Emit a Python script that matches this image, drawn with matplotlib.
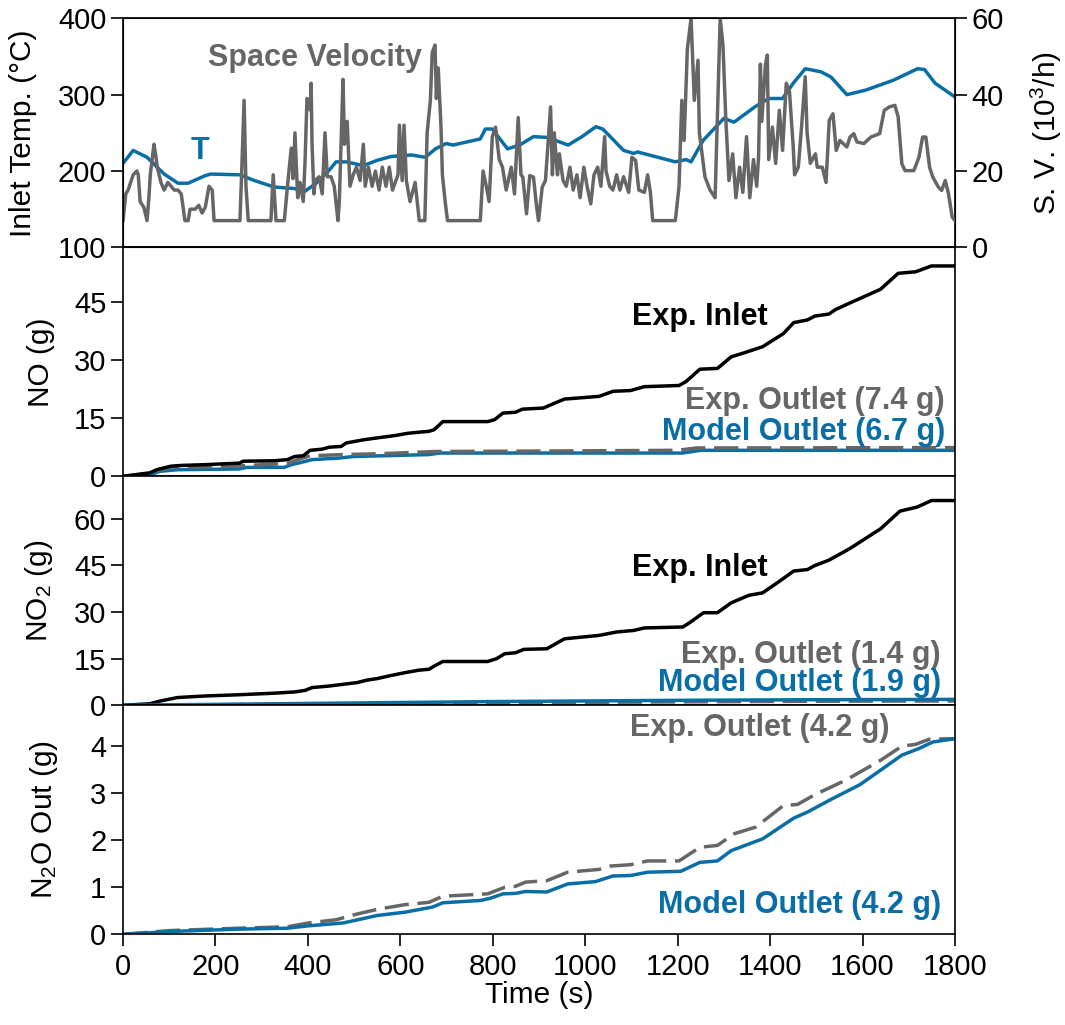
import numpy as np
import matplotlib
matplotlib.use("Agg")
import matplotlib.pyplot as plt

plt.rcParams['font.family'] = ['Liberation Sans', 'DejaVu Sans']
plt.rcParams['mathtext.default'] = 'regular'

BLUE = '#0a6ea6'
GREY = '#666666'

# inlet temperature (degC)
t_temp = [0, 22, 52, 89, 119, 141, 178, 190, 253, 282, 327, 372, 390, 416, 446, 461, 483, 520, 550, 580,
          624, 654, 676, 699, 714, 773, 784, 799, 818, 832, 858, 888, 918, 963, 993, 1023, 1038, 1083, 1105,
          1113, 1195, 1218, 1229, 1255, 1300, 1322, 1367, 1397, 1427, 1450, 1476, 1510, 1532, 1566, 1607,
          1667, 1719, 1734, 1757, 1800]
temp = [210, 227, 218, 196, 184, 184, 194, 196, 195, 188, 179, 177, 172, 183, 201, 212, 212, 207, 214, 219,
        221, 218, 229, 236, 234, 242, 255, 255, 240, 229, 234, 245, 244, 234, 245, 258, 255, 227, 223,
        225, 212, 215, 212, 240, 269, 264, 284, 295, 295, 315, 334, 330, 323, 300, 306,
        319, 334, 333, 315, 297]

# space velocity (10^3/h)
t_sv = [0, 6, 11, 22, 30, 33, 37, 45, 52, 56, 59, 67, 71, 74, 82, 89, 97, 104, 111, 119, 126, 134, 141, 145,
        156, 164, 171, 178, 186, 193, 197, 253, 256, 262, 266, 271, 320, 325, 331, 349, 357, 364, 368, 372,
        378, 383, 390, 394, 398, 401, 405, 407, 409, 413, 416, 424, 431, 437, 442, 450, 457, 465, 468, 476,
        479, 485, 491, 498, 505, 513, 520, 524, 531, 539, 546, 554, 561, 569, 576, 583, 595, 598, 604, 608,
        613, 621, 632, 641, 653, 658, 665, 669, 675, 678, 682, 688, 691, 697, 702, 773, 779, 786, 792, 799,
        806, 814, 821, 829, 840, 847, 855, 861, 865, 873, 880, 888, 895, 899, 907, 914, 922, 925, 929, 933,
        940, 944, 952, 959, 967, 974, 982, 989, 997, 1004, 1012, 1019, 1027, 1034, 1042, 1045, 1053, 1060,
        1068, 1075, 1083, 1094, 1101, 1109, 1116, 1128, 1135, 1141, 1146, 1195, 1203, 1209, 1214, 1221,
        1229, 1236, 1244, 1247, 1259, 1270, 1281, 1289, 1292, 1298, 1304, 1311, 1319, 1326, 1334, 1341,
        1349, 1356, 1364, 1371, 1375, 1379, 1382, 1390, 1394, 1397, 1405, 1412, 1420, 1427, 1435, 1442,
        1450, 1453, 1461, 1468, 1476, 1480, 1487, 1498, 1502, 1513, 1521, 1528, 1536, 1543, 1551, 1566,
        1573, 1581, 1588, 1603, 1618, 1637, 1647, 1658, 1670, 1677, 1685, 1692, 1711, 1722, 1730, 1737,
        1745, 1752, 1764, 1771, 1779, 1786, 1794, 1800]
sv = [7, 14, 15, 19, 20, 19, 12, 10.5, 7, 13, 19, 27, 24, 21, 17, 15, 17, 16, 15, 15, 14, 7, 7, 10,
      10, 11, 9, 10.5, 16, 15, 7, 7, 17, 38.5, 16, 7, 7, 19, 7, 7, 17.5, 26, 18, 30,
      13, 17, 12, 23, 39, 38.5, 36, 43, 27, 14, 17.5, 18.5, 14, 30, 18.5, 18.5, 16, 7, 12, 44,
      27, 33, 16, 19, 21, 17.5, 27, 16, 21, 16, 20, 15, 21, 16, 21, 15, 19, 32, 17.5, 32,
      17.5, 12, 17, 7, 7, 30, 38.5, 51, 53, 39, 47, 31.5, 19, 12, 7, 7, 20, 16, 12, 29,
      31.5, 23, 21, 15, 21, 14, 34, 19, 18.4, 8.8, 18.8, 18.4, 10.5, 7, 15.8, 17.5, 31.5, 36.8, 19, 30,
      19, 24.5, 17.5, 16, 21, 15, 19, 13, 21, 16, 11.4, 19, 21, 16, 29, 20, 16, 15,
      19, 15, 18.5, 14.4, 23.6, 22.8, 15, 14.4, 19, 14.4, 7, 7, 16, 38.5, 28, 52,
      60, 38.5, 49, 30, 18.5, 15, 13, 47, 60, 53, 34, 17.5, 24.5, 13, 21, 14.4,
      29, 13, 23, 16, 23.6, 48, 33, 48, 50.4, 23, 31.5, 22, 35.9, 25.4, 43, 40.7,
      26.3, 19, 21, 31.5, 44.7, 30, 22, 24.5, 21, 21, 17, 33.3, 35, 25.4, 28, 26.3,
      28.9, 29.8, 27.6, 27.2, 28.9, 29.8, 35.9, 36.8, 37.2, 34.2, 21.9, 20.1, 20.1, 23.6, 28.9, 28.9,
      21, 18.4, 15.8, 14.9, 17.5, 14, 7.9, 7]

# cumulative NO (g)
t_no_in = [0, 58, 73, 103, 125, 177, 252, 260, 327, 356, 371, 390, 405, 431, 446, 472, 483, 520, 550, 588,
           617, 662, 673, 692, 789, 804, 822, 849, 864, 910, 925, 955, 1030, 1060, 1098, 1128, 1203, 1218,
           1248, 1286, 1316, 1346, 1384, 1429, 1451, 1481, 1497, 1527, 1542, 1579, 1639, 1677, 1715, 1749, 1800]
no_in = [0, 0.9, 1.7, 2.6, 2.8, 3.0, 3.4, 3.9, 4.0, 4.3, 5.1, 5.3, 6.7, 7.0, 7.5, 7.7, 8.6, 9.4, 9.9, 10.5,
         11.1, 11.6, 12.0, 14.1, 14.1, 14.6, 16.3, 16.5, 17.3, 17.6, 18.4, 19.9, 20.6, 21.9, 22.1, 23.1, 23.4, 24.4,
         27.6, 27.8, 30.8, 31.9, 33.4, 36.8, 39.6, 40.3, 41.3, 41.8, 43.0, 45.0, 48.2, 52.3, 52.7, 54.2, 54.2]
t_no_exp = [0, 58, 103, 177, 252, 356, 378, 405, 476, 550, 677, 899, 1200, 1240, 1800]
no_exp = [0, 0.8, 2.4, 2.4, 2.7, 3.3, 4.3, 5.3, 5.6, 5.8, 6.4, 6.5, 6.7, 7.3, 7.4]
t_no_mod = [0, 58, 81, 118, 252, 267, 349, 364, 386, 409, 468, 498, 662, 685, 1210, 1250, 1800]
no_mod = [0, 0.4, 1.3, 1.7, 1.9, 2.3, 2.3, 3.0, 3.6, 4.3, 4.7, 5.1, 5.6, 6.0, 6.0, 6.7, 6.7]

# cumulative NO2 (g)
t_no2_in = [0, 58, 81, 118, 177, 252, 327, 371, 394, 409, 446, 506, 528, 550, 580, 610, 640, 662, 673, 692,
            789, 808, 826, 849, 867, 917, 955, 1030, 1068, 1105, 1128, 1211, 1226, 1256, 1286, 1316, 1354,
            1384, 1421, 1451, 1481, 1497, 1527, 1572, 1639, 1681, 1718, 1749, 1800]
no2_in = [0, 0.5, 1.4, 2.5, 3.0, 3.4, 3.9, 4.3, 4.8, 5.7, 6.2, 7.3, 8.1, 8.6, 9.6, 10.5, 11.3, 11.6, 12.6, 14.1,
          14.1, 15.0, 16.6, 16.9, 18.0, 18.2, 21.4, 22.5, 23.6, 24.1, 24.9, 25.2, 26.6, 29.8, 29.8, 33.0, 35.4,
          36.2, 40.0, 43.2, 43.7, 45.0, 46.7, 50.4, 56.8, 62.5, 63.8, 65.9, 65.9]
t_no2_exp = [0, 100, 400, 800, 1200, 1500, 1800]
no2_exp = [0, 0.1, 0.4, 0.8, 1.1, 1.3, 1.4]
t_no2_mod = [0, 100, 400, 800, 1200, 1500, 1800]
no2_mod = [0, 0.15, 0.6, 1.2, 1.6, 1.8, 1.9]

# cumulative N2O out (g)
t_n2o_exp = [0, 103, 252, 356, 401, 461, 506, 550, 610, 662, 692, 789, 826, 849, 871, 917, 962, 1030, 1053,
             1098, 1135, 1203, 1248, 1286, 1323, 1369, 1429, 1459, 1497, 1564, 1639, 1685, 1715, 1745, 1800]
n2o_exp = [0, 0.08, 0.13, 0.16, 0.24, 0.31, 0.43, 0.53, 0.63, 0.68, 0.81, 0.86, 1.0, 1.02, 1.11, 1.14, 1.32,
           1.38, 1.45, 1.48, 1.56, 1.56, 1.85, 1.89, 2.14, 2.28, 2.74, 2.76, 2.97, 3.28, 3.70, 4.0, 4.04, 4.15, 4.16]
t_n2o_mod = [0, 103, 252, 356, 401, 476, 550, 610, 670, 692, 774, 796, 822, 849, 871, 917, 962, 1022, 1060,
             1098, 1135, 1207, 1248, 1286, 1316, 1384, 1451, 1481, 1534, 1594, 1639, 1685, 1722, 1752, 1800]
n2o_mod = [0, 0.06, 0.11, 0.13, 0.18, 0.24, 0.40, 0.47, 0.58, 0.67, 0.72, 0.77, 0.86, 0.87, 0.91, 0.90, 1.07,
           1.12, 1.24, 1.25, 1.32, 1.34, 1.53, 1.56, 1.78, 2.03, 2.47, 2.60, 2.88, 3.18, 3.49, 3.81, 3.95, 4.09, 4.16]

FS = 21
LFS = 21.5
AFS = 22
LW = 2.5
DASH = (7, 2.5)

fig, axes = plt.subplots(4, 1, sharex=True, figsize=(10.65, 10.25), dpi=100)
fig.subplots_adjust(left=0.1155, right=0.8967, top=0.9821, bottom=0.0885, hspace=0)

for ax in axes:
    ax.tick_params(direction='out', length=8.5, width=1.2, labelsize=FS)
    for s in ax.spines.values():
        s.set_linewidth(1.2)
    ax.tick_params(axis='x', which='both', bottom=False)

# panel 1: temperature and space velocity
ax1 = axes[0]
ax1.plot(t_temp, temp, color=BLUE, lw=LW)
ax1.set_ylim(100, 400)
ax1.set_yticks([100, 200, 300, 400])
ax1.set_ylabel('Inlet Temp. (°C)', fontsize=LFS)
ax1.yaxis.set_label_coords(-0.103, 0.5)
ax1.text(167, 226, 'T', color=BLUE, fontsize=AFS, fontweight='bold', ha='center', va='center')
ax1r = ax1.twinx()
ax1r.plot(t_sv, sv, color=GREY, lw=LW)
ax1r.set_ylim(0, 60)
ax1r.set_yticks([0, 20, 40, 60])
ax1r.tick_params(direction='out', length=8.5, width=1.2, labelsize=FS)
ax1r.set_ylabel('S. V. (10$^3$/h)', fontsize=LFS)
ax1r.yaxis.set_label_coords(1.089, 0.5)
ax1r.text(415, 49.5, 'Space Velocity', color=GREY, fontsize=AFS, fontweight='bold', ha='center', va='center')

# panel 2: NO
ax2 = axes[1]
ax2.plot(t_no_mod, no_mod, color=BLUE, lw=LW)
ax2.plot(t_no_exp, no_exp, color=GREY, lw=LW, dashes=DASH)
ax2.plot(t_no_in, no_in, color='black', lw=LW)
ax2.set_ylim(0, 59)
ax2.set_yticks([0, 15, 30, 45])
ax2.set_ylabel('NO (g)', fontsize=LFS)
ax2.yaxis.set_label_coords(-0.082, 0.5)
ax2.text(1248, 41, 'Exp. Inlet', color='black', fontsize=AFS, fontweight='bold', ha='center', va='center')
ax2.text(1778, 19.3, 'Exp. Outlet (7.4 g)', color=GREY, fontsize=AFS, fontweight='bold', ha='right', va='center')
ax2.text(1778, 11.3, 'Model Outlet (6.7 g)', color=BLUE, fontsize=AFS, fontweight='bold', ha='right', va='center')

# panel 3: NO2
ax3 = axes[2]
ax3.plot(t_no2_exp, no2_exp, color=GREY, lw=LW, dashes=DASH)
ax3.plot(t_no2_in, no2_in, color='black', lw=LW)
ax3.plot(t_no2_mod, no2_mod, color=BLUE, lw=LW)
ax3.set_ylim(0, 73.7)
ax3.set_yticks([0, 15, 30, 45, 60])
ax3.set_ylabel('NO$_2$ (g)', fontsize=LFS)
ax3.yaxis.set_label_coords(-0.082, 0.5)
ax3.text(1248, 44.3, 'Exp. Inlet', color='black', fontsize=AFS, fontweight='bold', ha='center', va='center')
ax3.text(1770, 16.3, 'Exp. Outlet (1.4 g)', color=GREY, fontsize=AFS, fontweight='bold', ha='right', va='center')
ax3.text(1770, 7.2, 'Model Outlet (1.9 g)', color=BLUE, fontsize=AFS, fontweight='bold', ha='right', va='center')

# panel 4: N2O
ax4 = axes[3]
ax4.plot(t_n2o_exp, n2o_exp, color=GREY, lw=LW, dashes=DASH)
ax4.plot(t_n2o_mod, n2o_mod, color=BLUE, lw=LW)
ax4.set_ylim(0, 4.87)
ax4.set_yticks([0, 1, 2, 3, 4])
ax4.set_ylabel('N$_2$O Out (g)', fontsize=LFS)
ax4.yaxis.set_label_coords(-0.076, 0.5)
ax4.text(1658, 4.38, 'Exp. Outlet (4.2 g)', color=GREY, fontsize=AFS, fontweight='bold', ha='right', va='center')
ax4.text(1770, 0.63, 'Model Outlet (4.2 g)', color=BLUE, fontsize=AFS, fontweight='bold', ha='right', va='center')
ax4.tick_params(axis='x', bottom=True, direction='out', length=8.5, width=1.2, pad=5)
ax4.set_xlim(0, 1800)
ax4.set_xticks(np.arange(0, 1801, 200))
ax4.set_xlabel('Time (s)', fontsize=LFS, labelpad=0)

fig.savefig('out.png', dpi=100)
